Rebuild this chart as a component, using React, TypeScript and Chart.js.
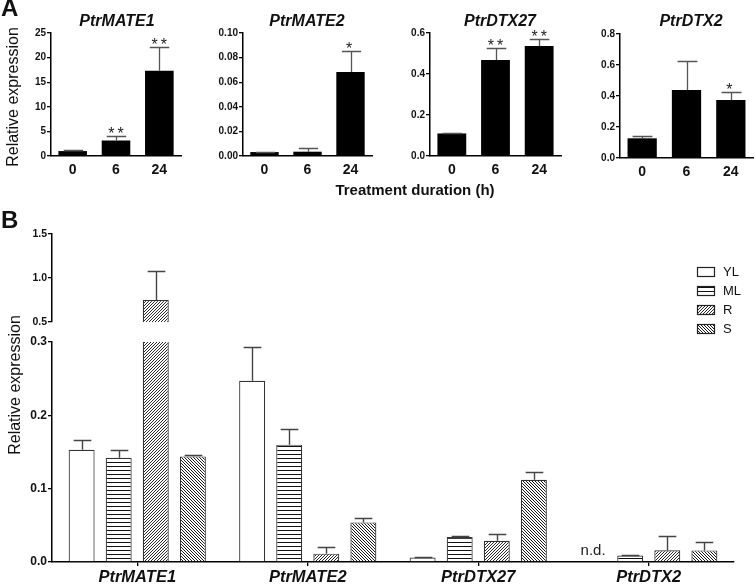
import React, { useEffect, useRef } from 'react';
import { Chart, registerables } from 'chart.js';

Chart.register(...registerables);

const FONT = "'Liberation Sans', Arial, Helvetica, sans-serif";
const INK = '#111';

// ---------- Panel A (treatment time course) ----------
const timeLabels = ['0', '6', '24'];

const mate1Values = [1.0, 3.15, 17.35];
const mate1Errors = [0.2, 0.85, 4.85];
const mate1Sig = ['', '**', '**'];

const mate2Values = [0.0032, 0.0035, 0.0683];
const mate2Errors = [0.0003, 0.0033, 0.0167];
const mate2Sig = ['', '', '*'];

const dtx27Values = [0.11, 0.468, 0.537];
const dtx27Errors = [0.003, 0.06, 0.034];
const dtx27Sig = ['', '**', '**'];

const dtx2Values = [0.127, 0.439, 0.374];
const dtx2Errors = [0.015, 0.19, 0.05];
const dtx2Sig = ['', '', '*'];

// ---------- Panel B (tissues) ----------
const genes = ['PtrMATE1', 'PtrMATE2', 'PtrDTX27', 'PtrDTX2'];
const tissues = ['YL', 'ML', 'R', 'S'];

const ylValues: (number | null)[] = [0.153, 0.247, 0.006, null];
const ylErrors: (number | null)[] = [0.014, 0.046, 0.001, null];
const mlValues: (number | null)[] = [0.142, 0.16, 0.034, 0.0088];
const mlErrors: (number | null)[] = [0.011, 0.021, 0.002, 0.0012];
const rValues: (number | null)[] = [0.75, 0.0114, 0.029, 0.016];
const rErrors: (number | null)[] = [0.33, 0.0096, 0.009, 0.019];
const sValues: (number | null)[] = [0.144, 0.054, 0.112, 0.0158];
const sErrors: (number | null)[] = [0.002, 0.006, 0.011, 0.011];
const notDetected = 'n.d.';

const upperTicks = { min: 0.5, max: 1.5, step: 0.5 };
const lowerTicks = { min: 0, max: 0.3, step: 0.1 };

type Box = {
  left: number; top: number; width: number; height: number;
  areaLeft: number; areaTop: number; areaRight: number; areaBottom: number;
};

function errorBarsPlugin(values: (number | null)[][], errors: (number | null)[][], color: string, lw: number) {
  return {
    id: 'errorBars',
    afterDatasetsDraw(chart: any) {
      const { ctx, chartArea: a } = chart;
      const ys = chart.scales.y;
      ctx.save();
      ctx.beginPath();
      ctx.rect(a.left, a.top - 2, a.right - a.left, a.bottom - a.top + 2);
      ctx.clip();
      ctx.strokeStyle = color;
      ctx.lineWidth = lw;
      values.forEach((vals, di) => {
        const meta = chart.getDatasetMeta(di);
        vals.forEach((v, i) => {
          const e = errors[di][i];
          if (v == null || e == null) return;
          const el = meta.data[i];
          if (!el) return;
          const x = Math.round(el.x) + 0.5;
          const y0 = ys.getPixelForValue(v);
          const y1 = Math.round(ys.getPixelForValue(v + e)) + 0.5;
          const half = el.width * 0.34;
          ctx.beginPath();
          ctx.moveTo(x, y0);
          ctx.lineTo(x, y1);
          ctx.moveTo(x - half, y1);
          ctx.lineTo(x + half, y1);
          ctx.stroke();
        });
      });
      ctx.restore();
    },
  };
}

function starsPlugin(values: number[], errors: number[], sig: string[]) {
  return {
    id: 'stars',
    afterDatasetsDraw(chart: any) {
      const { ctx } = chart;
      const ys = chart.scales.y;
      const meta = chart.getDatasetMeta(0);
      ctx.save();
      ctx.fillStyle = '#222';
      ctx.font = `16px ${FONT}`;
      ctx.textAlign = 'center';
      ctx.textBaseline = 'alphabetic';
      (ctx as any).letterSpacing = '3px';
      sig.forEach((s, i) => {
        if (!s) return;
        const el = meta.data[i];
        const y = ys.getPixelForValue(values[i] + errors[i]);
        ctx.fillText(s, el.x + (s.length > 1 ? 1.5 : 0), y + 3);
      });
      ctx.restore();
    },
  };
}

function ndPlugin(values: (number | null)[][], text: string) {
  return {
    id: 'notDetected',
    afterDatasetsDraw(chart: any) {
      const { ctx } = chart;
      const ys = chart.scales.y;
      ctx.save();
      ctx.fillStyle = '#222';
      ctx.font = `15px ${FONT}`;
      ctx.textAlign = 'center';
      ctx.textBaseline = 'alphabetic';
      values.forEach((vals, di) => {
        const meta = chart.getDatasetMeta(di);
        vals.forEach((v, i) => {
          if (v != null) return;
          const el = meta.data[i];
          if (!el) return;
          ctx.fillText(text, el.x, ys.getPixelForValue(0) - 7);
        });
      });
      ctx.restore();
    },
  };
}

function legendPlugin(boxTop: number) {
  return {
    id: 'patternLegend',
    afterDraw(chart: any) {
      const { ctx } = chart;
      const ys = [272, 291, 310, 329];
      ctx.save();
      chart.data.datasets.forEach((ds: any, i: number) => {
        const cy = ys[i] - boxTop;
        ctx.fillStyle = ds.backgroundColor;
        ctx.fillRect(697, cy - 4.5, 18, 9);
        ctx.strokeStyle = '#222';
        ctx.lineWidth = 1.2;
        ctx.strokeRect(697.5, cy - 4.5, 17, 9);
        ctx.fillStyle = INK;
        ctx.font = `13px ${FONT}`;
        ctx.textAlign = 'left';
        ctx.textBaseline = 'middle';
        ctx.fillText(ds.label, 723, cy + 0.5);
      });
      ctx.restore();
    },
  };
}

function makePattern(kind: 'h' | 'fw' | 'bw'): CanvasPattern {
  const c = document.createElement('canvas');
  const ctx = c.getContext('2d')!;
  if (kind === 'h') {
    c.width = 4; c.height = 4;
    ctx.fillStyle = '#fff';
    ctx.fillRect(0, 0, 4, 4);
    ctx.fillStyle = '#111';
    ctx.fillRect(0, 0, 4, 1);
  } else {
    const p = 3;
    c.width = 6; c.height = 6;
    const img = ctx.createImageData(6, 6);
    for (let y = 0; y < 6; y++) {
      for (let x = 0; x < 6; x++) {
        const on = kind === 'fw' ? (x + y) % p === 0 : (((x - y) % p) + p) % p === 0;
        const v = on ? (kind === 'fw' ? 40 : 25) : 255;
        const k = (y * 6 + x) * 4;
        img.data[k] = v; img.data[k + 1] = v; img.data[k + 2] = v; img.data[k + 3] = 255;
      }
    }
    ctx.putImageData(img, 0, 0);
  }
  return ctx.createPattern(c, 'repeat')!;
}

function yAxis(box: Box, min: number, max: number, step: number, decimals: number, size: number) {
  return {
    min, max,
    grid: { display: true, drawOnChartArea: false, drawTicks: true, tickLength: 4, color: '#000', lineWidth: 1.3 },
    border: { display: true, color: '#000', width: 1.5 },
    ticks: {
      stepSize: step,
      padding: 1,
      color: INK,
      font: { family: FONT, size, weight: 'bold' },
      callback: (v: any) => Number(v).toFixed(decimals),
    },
    afterFit: (s: any) => { s.width = box.areaLeft - box.left; },
  };
}

function padding(box: Box, hiddenX = false) {
  return {
    top: box.areaTop - box.top,
    right: box.left + box.width - box.areaRight,
    bottom: hiddenX ? box.top + box.height - box.areaBottom : 0,
    left: 0,
  };
}

function makeA(canvas: HTMLCanvasElement, box: Box, values: number[], errors: number[], sig: string[], yMax: number, step: number, decimals: number) {
  return new Chart(canvas, {
    type: 'bar',
    data: {
      labels: timeLabels,
      datasets: [{ data: values, backgroundColor: '#000', borderWidth: 0, categoryPercentage: 1, barPercentage: 0.66 }],
    },
    options: {
      animation: false,
      responsive: false,
      events: [],
      layout: { padding: padding(box) },
      plugins: { legend: { display: false }, tooltip: { enabled: false }, title: { display: false } },
      scales: {
        x: {
          grid: { display: false, drawTicks: false },
          border: { display: true, color: '#000', width: 1.5 },
          ticks: { color: INK, padding: 6, font: { family: FONT, size: 14, weight: 'bold' } },
          afterFit: (s: any) => { s.height = box.top + box.height - box.areaBottom; },
        },
        y: yAxis(box, 0, yMax, step, decimals, 10),
      },
    } as any,
    plugins: [errorBarsPlugin([values], [errors], '#555', 1.3), starsPlugin(values, errors, sig)],
  });
}

const boxA1: Box = { left: 0, top: 20, width: 190, height: 165, areaLeft: 51, areaTop: 33, areaRight: 181, areaBottom: 156 };
const boxA2: Box = { left: 195, top: 20, width: 185, height: 165, areaLeft: 243, areaTop: 33, areaRight: 372, areaBottom: 156 };
const boxA3: Box = { left: 385, top: 20, width: 182, height: 165, areaLeft: 430, areaTop: 33, areaRight: 561, areaBottom: 156 };
const boxA4: Box = { left: 572, top: 20, width: 183, height: 165, areaLeft: 620, areaTop: 34, areaRight: 753, areaBottom: 158 };
const boxBU: Box = { left: 0, top: 215, width: 755, height: 125, areaLeft: 52, areaTop: 234, areaRight: 734, areaBottom: 322 };
const boxBL: Box = { left: 0, top: 330, width: 755, height: 255, areaLeft: 52, areaTop: 342, areaRight: 734, areaBottom: 562 };

function Text(props: { x: number; y: number; text: string; size: number; bold?: boolean; italic?: boolean; align?: 'left' | 'center'; rotate?: boolean }) {
  const { x, y, text, size, bold, italic, align = 'left', rotate } = props;
  const base: React.CSSProperties = {
    position: 'absolute',
    whiteSpace: 'nowrap',
    fontFamily: FONT,
    fontSize: size,
    lineHeight: `${size}px`,
    fontWeight: bold ? 'bold' : 'normal',
    fontStyle: italic ? 'italic' : 'normal',
    color: INK,
  };
  if (rotate) {
    return <div style={{ ...base, left: x, top: y, transform: 'translate(-50%, -50%) rotate(-90deg)' }}>{text}</div>;
  }
  return (
    <div style={{ ...base, left: x, top: y - 0.8465 * size, transform: align === 'center' ? 'translateX(-50%)' : undefined }}>
      {text}
    </div>
  );
}

export default function App() {
  const a1 = useRef<HTMLCanvasElement>(null);
  const a2 = useRef<HTMLCanvasElement>(null);
  const a3 = useRef<HTMLCanvasElement>(null);
  const a4 = useRef<HTMLCanvasElement>(null);
  const bu = useRef<HTMLCanvasElement>(null);
  const bl = useRef<HTMLCanvasElement>(null);

  useEffect(() => {
    const charts: Chart[] = [];
    charts.push(makeA(a1.current!, boxA1, mate1Values, mate1Errors, mate1Sig, 25, 5, 0));
    charts.push(makeA(a2.current!, boxA2, mate2Values, mate2Errors, mate2Sig, 0.1, 0.02, 2));
    charts.push(makeA(a3.current!, boxA3, dtx27Values, dtx27Errors, dtx27Sig, 0.6, 0.2, 1));
    charts.push(makeA(a4.current!, boxA4, dtx2Values, dtx2Errors, dtx2Sig, 0.8, 0.2, 1));

    const fills = ['#fff', makePattern('h'), makePattern('fw'), makePattern('bw')];
    const allValues = [ylValues, mlValues, rValues, sValues];
    const allErrors = [ylErrors, mlErrors, rErrors, sErrors];

    const datasetsFor = (upper: boolean) =>
      tissues.map((t, i) => ({
        label: t,
        data: upper
          ? allValues[i].map((v) => (v != null && v > upperTicks.min ? [upperTicks.min, v] : null))
          : allValues[i],
        backgroundColor: fills[i],
        borderColor: '#333',
        borderWidth: 1.2,
        categoryPercentage: 0.87,
        barPercentage: 0.7,
      }));

    charts.push(
      new Chart(bu.current!, {
        type: 'bar',
        data: { labels: genes, datasets: datasetsFor(true) as any },
        options: {
          animation: false,
          responsive: false,
          events: [],
          layout: { padding: padding(boxBU, true) },
          plugins: { legend: { display: false }, tooltip: { enabled: false } },
          scales: {
            x: { display: false },
            y: yAxis(boxBU, upperTicks.min, upperTicks.max, upperTicks.step, 1, 10.5),
          },
        } as any,
        plugins: [errorBarsPlugin(allValues, allErrors, '#444', 1.4), legendPlugin(boxBU.top)],
      })
    );

    charts.push(
      new Chart(bl.current!, {
        type: 'bar',
        data: { labels: genes, datasets: datasetsFor(false) as any },
        options: {
          animation: false,
          responsive: false,
          events: [],
          layout: { padding: padding(boxBL) },
          plugins: { legend: { display: false }, tooltip: { enabled: false } },
          scales: {
            x: {
              grid: { display: true, drawOnChartArea: false, drawTicks: true, tickLength: 4, offset: false, color: '#000', lineWidth: 1.3 },
              border: { display: true, color: '#000', width: 1.5 },
              ticks: { color: INK, padding: 2, font: { family: FONT, size: 16.5, weight: 'bold', style: 'italic' } },
              afterFit: (s: any) => { s.height = boxBL.top + boxBL.height - boxBL.areaBottom; },
            },
            y: yAxis(boxBL, lowerTicks.min, lowerTicks.max, lowerTicks.step, 1, 12),
          },
        } as any,
        plugins: [errorBarsPlugin(allValues, allErrors, '#444', 1.4), ndPlugin(allValues, notDetected)],
      })
    );

    return () => charts.forEach((c) => c.destroy());
  }, []);

  const cv = (ref: React.RefObject<HTMLCanvasElement>, b: Box) => (
    <canvas
      ref={ref}
      width={b.width}
      height={b.height}
      style={{ position: 'absolute', left: b.left, top: b.top, width: b.width, height: b.height }}
    />
  );

  return (
    <div style={{ position: 'fixed', left: 0, top: 0, width: 755, height: 585, background: '#fff', overflow: 'hidden' }}>
      {cv(a1, boxA1)}
      {cv(a2, boxA2)}
      {cv(a3, boxA3)}
      {cv(a4, boxA4)}
      {cv(bu, boxBU)}
      {cv(bl, boxBL)}

      <Text x={1} y={16} text="A" size={24} bold />
      <Text x={1} y={228} text="B" size={24} bold />

      <Text x={117} y={27} text="PtrMATE1" size={16} bold italic align="center" />
      <Text x={307} y={27} text="PtrMATE2" size={16} bold italic align="center" />
      <Text x={500} y={27} text="PtrDTX27" size={16} bold italic align="center" />
      <Text x={691} y={27} text="PtrDTX2" size={16} bold italic align="center" />

      <Text x={13} y={97} text="Relative expression" size={16} rotate />
      <Text x={415} y={195} text="Treatment duration (h)" size={15} bold align="center" />
      <Text x={15} y={385} text="Relative expression" size={16} rotate />
    </div>
  );
}
